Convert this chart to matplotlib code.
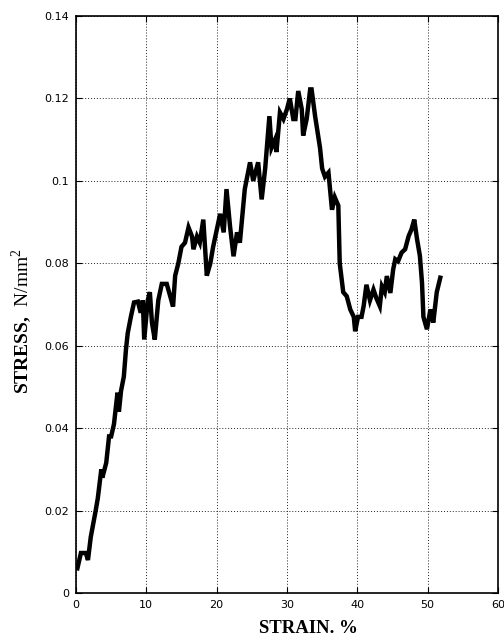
import matplotlib
matplotlib.use("Agg")
import matplotlib.pyplot as plt

# Stress-strain record of the specimen
strain = [0.2, 0.7, 1.4, 1.7, 2.1, 2.8, 3.1, 3.6, 3.75, 4.3, 4.7, 5.0, 5.4, 5.9,
          6.1, 6.4, 6.8, 7.1, 7.35, 7.8, 8.25, 8.8, 9.2, 9.5, 9.7, 10.2, 10.5,
          10.8, 11.2, 11.7, 12.2, 12.9, 13.4, 13.8, 14.1, 14.55, 15.0, 15.5,
          16.0, 16.5, 16.7, 17.2, 17.6, 18.1, 18.6, 19.1, 19.5, 20.0, 20.5,
          21.0, 21.4, 21.9, 22.4, 22.9, 23.3, 24.0, 24.75, 25.2, 25.9, 26.4,
          26.9, 27.5, 27.8, 28.3, 28.5, 29.0, 29.5, 30.0, 30.4, 30.9, 31.2,
          31.6, 32.1, 32.3, 32.8, 33.3, 33.5, 34.0, 34.7, 35.0, 35.4, 35.9,
          36.4, 36.8, 37.3, 37.5, 38.0, 38.5, 39.0, 39.5, 39.7, 40.1, 40.6,
          40.9, 41.3, 41.8, 42.3, 42.7, 43.2, 43.5, 43.9, 44.2, 44.7, 45.1,
          45.4, 45.8, 46.3, 46.8, 47.3, 47.7, 48.1, 48.5, 48.9, 49.2, 49.4,
          49.9, 50.4, 50.8, 51.3, 51.8]
stress = [0.006, 0.0097, 0.0097, 0.008, 0.0136, 0.020, 0.023, 0.030, 0.028,
          0.0316, 0.038, 0.038, 0.041, 0.0486, 0.044, 0.049, 0.0525, 0.059,
          0.063, 0.067, 0.0705, 0.0707, 0.068, 0.071, 0.0615, 0.071, 0.073,
          0.0656, 0.0615, 0.071, 0.075, 0.075, 0.072, 0.0695, 0.077, 0.080,
          0.084, 0.085, 0.0887, 0.0865, 0.0834, 0.0865, 0.085, 0.0906, 0.077,
          0.080, 0.084, 0.088, 0.092, 0.0875, 0.098, 0.089, 0.0817, 0.0875,
          0.085, 0.098, 0.1045, 0.100, 0.1045, 0.0955, 0.103, 0.1157, 0.108,
          0.110, 0.107, 0.1166, 0.115, 0.1174, 0.120, 0.115, 0.115, 0.1218,
          0.1174, 0.111, 0.115, 0.1222, 0.1222, 0.1157, 0.108, 0.103, 0.101,
          0.102, 0.093, 0.096, 0.094, 0.080, 0.073, 0.072, 0.0688, 0.067,
          0.0635, 0.067, 0.067, 0.0696, 0.0748, 0.071, 0.0736, 0.0716, 0.0696,
          0.0744, 0.073, 0.0769, 0.0728, 0.0785, 0.081, 0.0805, 0.0826, 0.0834,
          0.0866, 0.0882, 0.0906, 0.0858, 0.0818, 0.0753, 0.067, 0.064, 0.0688,
          0.0656, 0.073, 0.0765]

x_ticks = [0, 10, 20, 30, 40, 50, 60]
y_ticks = [0, 0.02, 0.04, 0.06, 0.08, 0.1, 0.12, 0.14]
y_tick_labels = ["0", "0.02", "0.04", "0.06", "0.08", "0.1", "0.12", "0.14"]

plt.rcParams["mathtext.fontset"] = "custom"
plt.rcParams["mathtext.rm"] = "Liberation Serif"
plt.rcParams["mathtext.bf"] = "Liberation Serif:bold"

fig = plt.figure(figsize=(5.04, 6.41), dpi=100)
ax = fig.add_axes([0.1508, 0.0749, 0.8372, 0.9001])

ax.plot(strain, stress, color="black", linewidth=3.2, solid_joinstyle="miter")

ax.set_xlim(0, 60)
ax.set_ylim(0, 0.14)
ax.set_xticks(x_ticks)
ax.set_xticklabels([str(v) for v in x_ticks])
ax.set_yticks(y_ticks)
ax.set_yticklabels(y_tick_labels)

ax.grid(True, color="#222222", linestyle=(0, (1, 2)), linewidth=0.7)
ax.tick_params(direction="in", length=4, width=0.8, top=True, right=True,
               labelsize=8, pad=5)
for lab in ax.get_xticklabels() + ax.get_yticklabels():
    lab.set_family("DejaVu Sans")
for sp in ax.spines.values():
    sp.set_linewidth(1.2)

ax.set_xlabel("STRAIN. %", family="Liberation Serif", fontweight="bold",
              fontsize=13.5, va="center")
ax.xaxis.set_label_coords(0.552, -0.062)
ax.set_ylabel(r"$\mathbf{STRESS,}\ \mathrm{N/mm}^{2}$", fontsize=14,
              va="center")
ax.yaxis.set_label_coords(-0.128, 0.471)

fig.savefig("out.png", dpi=100)
